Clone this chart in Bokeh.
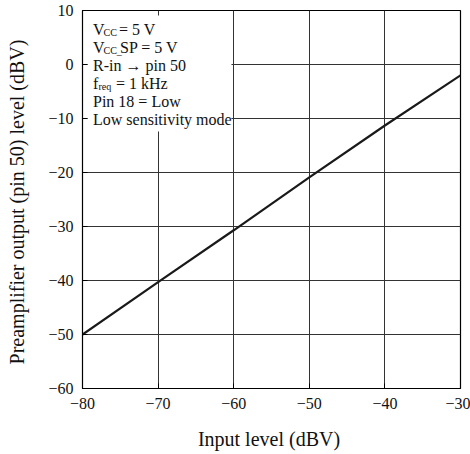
from bokeh.plotting import figure
from bokeh.models import Label, BoxAnnotation, FixedTicker, Range1d
from bokeh.embed import file_html
from bokeh.resources import INLINE

# ---- data ----
input_level = [-80, -70, -60, -50, -40, -30]
output_level = [-50.0, -40.3, -30.7, -20.9, -11.3, -2.0]

x_ticks = [-80, -70, -60, -50, -40, -30]
x_tick_labels = ["\u221280", "\u221270", "\u221260", "\u221250", "\u221240", "\u221230"]
y_ticks = [-60, -50, -40, -30, -20, -10, 0, 10]
y_tick_labels = ["\u221260", "\u221250", "\u221240", "\u221230", "\u221220", "\u221210", "0", "10"]

x_title = "Input level  (dBV)"
y_title = "Preamplifier output (pin 50) level  (dBV)"

note_main = ["V", "V", "R-in \u2192 pin 50", "f", "Pin 18 = Low", "Low sensitivity mode"]
note_sub = ["CC", "CC_", "", "req", "", ""]
note_rest = ["= 5 V", "SP = 5 V", "", "= 1 kHz", "", ""]
note_y = [6.49, 3.17, -0.21, -3.46, -6.87, -10.19]

FONT = "Liberation Serif"

p = figure(width=470, height=454, x_range=Range1d(-80, -30), y_range=Range1d(-60, 10),
           output_backend="svg", toolbar_location=None,
           min_border_left=82, min_border_right=10, min_border_top=10, min_border_bottom=66,
           x_axis_label=x_title, y_axis_label=y_title)
p.background_fill_color = "white"
p.border_fill_color = "white"
p.outline_line_color = "black"
p.outline_line_width = 1.2

for ax, ticks, labels in ((p.xaxis[0], x_ticks, x_tick_labels), (p.yaxis[0], y_ticks, y_tick_labels)):
    ax.ticker = FixedTicker(ticks=ticks)
    ax.major_label_overrides = dict(zip(ticks, labels))
    ax.major_tick_in = 5
    ax.major_tick_out = 0
    ax.minor_tick_line_color = None
    ax.axis_line_color = "black"
    ax.major_tick_line_color = "black"
    ax.major_label_text_font = FONT
    ax.major_label_text_font_size = "16px"
    ax.major_label_text_color = "#111111"
    ax.axis_label_text_font = FONT
    ax.axis_label_text_font_size = "20px"
    ax.axis_label_text_font_style = "normal"
    ax.axis_label_text_color = "#111111"
    ax.major_label_standoff = 9

p.xaxis[0].axis_label_standoff = 16
p.yaxis[0].axis_label_standoff = 17

p.xgrid.ticker = FixedTicker(ticks=x_ticks)
p.ygrid.ticker = FixedTicker(ticks=y_ticks)
p.grid.grid_line_color = "#333333"
p.grid.grid_line_width = 1

# white note panel (leaves 5px of grid at the frame edge, like inward ticks)
box = BoxAnnotation(left=-79.34, right=-60.3, bottom=-12.4, top=9.07,
                    fill_color="white", fill_alpha=1.0, line_color=None, level="underlay")
p.add_layout(box)

p.line(input_level, output_level, line_color="#1a1a1a", line_width=2.2)

x0 = -78.61
sub_off = [10.5, 10.5, 0, 5.5, 0, 0]
rest_off = [26, 27, 0, 23, 0, 0]
for i in range(len(note_main)):
    p.add_layout(Label(x=x0, y=note_y[i], text=note_main[i], text_font=FONT,
                       text_font_size="16px", text_baseline="alphabetic", text_color="#111111"))
    if note_sub[i]:
        p.add_layout(Label(x=x0, y=note_y[i], x_offset=sub_off[i], y_offset=-3,
                           text=note_sub[i], text_font=FONT, text_font_size="10px",
                           text_baseline="alphabetic", text_color="#111111"))
    if note_rest[i]:
        p.add_layout(Label(x=x0, y=note_y[i], x_offset=rest_off[i], text=note_rest[i],
                           text_font=FONT, text_font_size="16px", text_baseline="alphabetic",
                           text_color="#111111"))

open("out.html", "w").write(file_html(p, INLINE))
